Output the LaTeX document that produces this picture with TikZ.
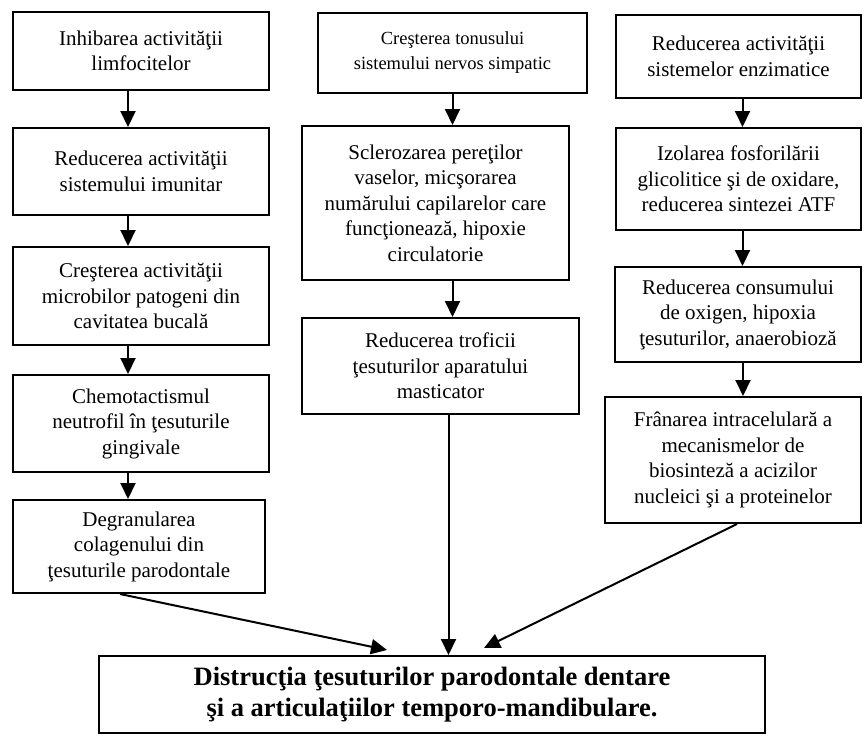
\documentclass[tikz,border=0pt]{standalone}
\usepackage{fontspec}
\setmainfont{Liberation Serif}
\usetikzlibrary{arrows.meta}

\begin{document}
\begin{tikzpicture}[x=1pt, y=-1pt,
    box/.style={draw, line width=2pt, align=center, inner sep=0pt,
        font=\fontsize{21}{25.5}\selectfont},
    arr/.style={line width=2pt, -{Triangle[length=16pt, width=15pt]}}]
    \useasboundingbox (0,0) rectangle (864,736);

    % Left column
    \node[box, minimum width=256, minimum height=78] (L1) at (141,51)
        {Inhibarea activităţii\\limfocitelor};
    \node[box, minimum width=256, minimum height=87] (L2) at (141,171.5)
        {Reducerea activităţii\\sistemului imunitar};
    \node[box, minimum width=256, minimum height=98] (L3) at (141,296)
        {Creşterea activităţii\\microbilor patogeni din\\cavitatea bucală};
    \node[box, minimum width=256, minimum height=97] (L4) at (141,423.5)
        {Chemotactismul\\neutrofil în ţesuturile\\gingivale};
    \node[box, minimum width=252, minimum height=93] (L5) at (139,546.5)
        {Degranularea\\colagenului din\\ţesuturile parodontale};

    % Middle column
    \node[box, minimum width=269, minimum height=80, font=\fontsize{18.5}{25}\selectfont]
        (M1) at (452.5,53) {Creşterea tonusului\\sistemului nervos simpatic};
    \node[box, minimum width=267, minimum height=154] (M2) at (435.5,203)
        {Sclerozarea pereţilor\\vaselor, micşorarea\\numărului capilarelor care\\funcţionează, hipoxie\\circulatorie};
    \node[box, minimum width=277, minimum height=96] (M3) at (440.5,366)
        {Reducerea troficii\\ţesuturilor aparatului\\masticator};

    % Right column
    \node[box, minimum width=245, minimum height=83] (R1) at (738.5,56.5)
        {Reducerea activităţii\\sistemelor enzimatice};
    \node[box, minimum width=245, minimum height=102] (R2) at (738.5,179)
        {Izolarea fosforilării\\glicolitice şi de oxidare,\\reducerea sintezei ATF};
    \node[box, minimum width=246, minimum height=95] (R3) at (738,314.5)
        {Reducerea consumului\\de oxigen, hipoxia\\ţesuturilor, anaerobioză};
    \node[box, minimum width=256, minimum height=126] (R4) at (733,460)
        {Frânarea intracelulară a\\mecanismelor de\\biosinteză a acizilor\\nucleici şi a proteinelor};

    % Result
    \node[box, minimum width=666, minimum height=77, font=\fontsize{26.5}{31}\selectfont\bfseries]
        (D) at (432,694.5) {Distrucţia ţesuturilor parodontale dentare\\şi a articulaţiilor temporo-mandibulare.};
    \coordinate (inL) at (387,650);
    \coordinate (inR) at (484,648);

    % Arrows
    \draw[arr] ([xshift=-13pt]L1.south) -- ([xshift=-13pt]L2.north);
    \draw[arr] ([xshift=-13pt]L2.south) -- ([xshift=-13pt]L3.north);
    \draw[arr] ([xshift=-13pt]L3.south) -- ([xshift=-13pt]L4.north);
    \draw[arr] ([xshift=-13pt]L4.south) -- ([xshift=-11pt]L5.north);
    \draw[arr] (M1.south) -- (M1.south |- M2.north);
    \draw[arr] (M2.south -| M1.south) -- (M3.north -| M1.south);
    \draw[arr] ([xshift=8pt]M3.south) -- ([xshift=8pt]M3.south |- D.north);
    \draw[arr] ([xshift=4pt]R1.south) -- ([xshift=4pt]R2.north);
    \draw[arr] ([xshift=4pt]R2.south) -- ([xshift=4pt]R2.south |- R3.north);
    \draw[arr] ([xshift=5pt]R3.south) -- ([xshift=10pt]R4.north);
    \draw[arr] ([xshift=-19pt]L5.south) -- (inL);
    \draw[arr] ([xshift=4pt]R4.south) -- (inR);
\end{tikzpicture}
\end{document}
